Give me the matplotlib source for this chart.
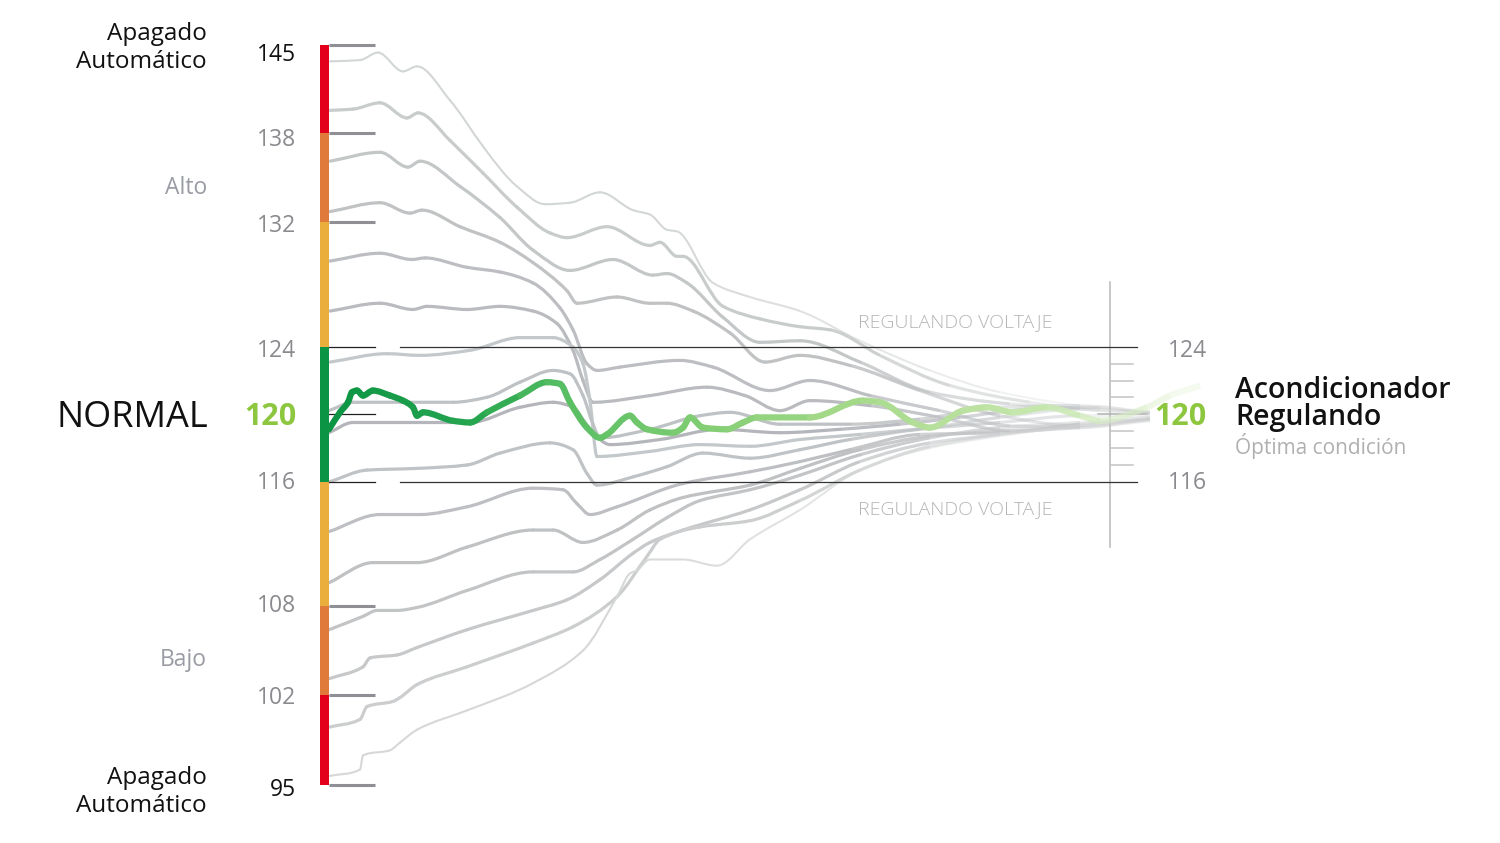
import numpy as np
import matplotlib
matplotlib.use("Agg")
import matplotlib.pyplot as plt
from matplotlib.collections import PathCollection
from matplotlib.path import Path
from matplotlib.colors import to_rgba

plt.rcParams['font.family'] = ['Open Sans', 'DejaVu Sans']

# the voltage axis of the original is not linear: value -> pixel row
scale_v = [90.49, 95, 102, 108, 116, 120, 124, 132, 138, 145, 148.58]
scale_px = [843, 785, 695, 606, 482, 414, 347, 222, 133, 45, 0]

# zone bar (bottom to top)
band_edges = [95, 102, 108, 116, 124, 132, 138, 145]
band_colors = ['#e2001a', '#df7a3a', '#e9ae3c', '#0b9444', '#e9ae3c', '#df7a3a', '#e2001a']

left_ticks = [145, 138, 132, 124, 120, 116, 108, 102, 95]
left_labels = ['145', '138', '132', '124', '120', '116', '108', '102', '95']
right_minor = [117, 118, 119, 121, 122, 123]

# voltage traces, x = time (same units as the picture columns)
u1_x = [330, 360, 378, 403, 417, 450, 483, 517, 545, 570, 600, 633, 650, 667, 677, 713, 750, 800, 860, 930, 1000, 1080, 1150]
u1_v = [143.7, 143.8, 144.4, 142.9, 143.3, 140.6, 137.1, 134.4, 133.2, 133.3, 134.0, 132.8, 132.5, 131.5, 131.4, 128.1, 127.2, 126.3, 124.4, 122.6, 121.3, 120.5, 120.1]
u2_x = [330, 353, 380, 407, 418, 450, 483, 517, 550, 567, 607, 650, 660, 677, 683, 723, 760, 800, 830, 880, 950, 1030, 1100, 1150]
u2_v = [139.8, 139.9, 140.4, 139.2, 139.6, 137.5, 135.3, 133.0, 131.3, 131.0, 131.7, 130.5, 130.7, 129.8, 129.8, 126.6, 125.8, 125.3, 125.1, 123.5, 121.7, 120.7, 120.2, 120.0]
u3_x = [330, 380, 408, 420, 460, 500, 533, 570, 613, 653, 667, 687, 723, 760, 800, 860, 930, 1010, 1080, 1150]
u3_v = [136.1, 136.7, 135.7, 136.1, 134.4, 132.3, 130.2, 128.9, 129.6, 128.6, 128.7, 128.1, 125.9, 124.3, 124.4, 123.1, 121.3, 120.6, 120.3, 120.1]
u4_x = [330, 380, 410, 422, 460, 500, 533, 567, 577, 617, 650, 667, 693, 730, 765, 800, 850, 920, 1000, 1080, 1150]
u4_v = [132.7, 133.3, 132.6, 132.8, 131.7, 130.7, 129.4, 127.6, 126.8, 127.2, 126.8, 126.8, 126.3, 124.9, 123.1, 123.5, 122.9, 121.4, 119.9, 119.3, 119.7]
u5_x = [330, 380, 412, 425, 467, 500, 533, 560, 573, 587, 597, 620, 680, 713, 770, 810, 870, 940, 1010, 1080, 1150]
u5_v = [129.5, 130.0, 129.6, 129.7, 129.1, 128.8, 128.1, 126.5, 125.1, 123.0, 122.6, 122.8, 123.2, 122.8, 121.4, 122.0, 121.1, 120.2, 119.3, 119.2, 119.7]
u6_x = [330, 380, 413, 427, 467, 500, 533, 557, 573, 583, 593, 650, 707, 745, 780, 810, 870, 940, 1010, 1080, 1150]
u6_v = [126.3, 126.8, 126.4, 126.6, 126.4, 126.6, 126.3, 125.5, 123.8, 122.0, 120.7, 121.1, 121.6, 121.1, 120.2, 120.8, 120.5, 119.8, 119.0, 119.2, 119.6]
u7_x = [330, 387, 420, 470, 520, 553, 573, 583, 590, 597, 650, 700, 750, 800, 860, 930, 1000, 1080, 1150]
u7_v = [123.1, 123.6, 123.5, 123.8, 124.6, 124.6, 124.0, 123.0, 120.8, 117.5, 117.8, 118.2, 118.1, 118.5, 118.8, 119.2, 119.8, 120.3, 120.1]
m1_x = [329, 353, 403, 453, 487, 520, 553, 570, 583, 593, 600, 650, 700, 730, 780, 850, 920, 1000, 1080, 1150]
m1_v = [120.2, 120.7, 120.7, 120.7, 121.0, 121.9, 122.6, 122.4, 121.1, 119.4, 118.6, 119.1, 119.9, 120.1, 119.4, 119.4, 119.7, 120.4, 120.5, 120.1]
m2_x = [329, 353, 420, 470, 520, 553, 573, 590, 610, 660, 720, 780, 840, 900, 960, 1030, 1100, 1150]
m2_v = [118.9, 119.5, 119.5, 119.5, 120.4, 120.7, 120.4, 119.1, 118.2, 118.5, 119.1, 118.9, 119.1, 119.4, 119.8, 120.3, 120.4, 120.0]
l1_x = [329, 367, 417, 467, 500, 550, 573, 587, 597, 633, 667, 703, 750, 800, 850, 920, 1000, 1080, 1150]
l1_v = [116.0, 116.7, 116.8, 117.0, 117.7, 118.3, 117.9, 116.5, 115.8, 116.3, 116.9, 117.7, 117.4, 117.9, 118.5, 119.1, 119.5, 119.9, 119.9]
l2_x = [329, 380, 420, 467, 533, 563, 577, 590, 617, 683, 750, 800, 850, 920, 1000, 1080, 1150]
l2_v = [112.8, 113.9, 113.9, 114.4, 115.6, 115.5, 114.6, 113.9, 114.4, 115.9, 116.6, 117.2, 117.9, 118.8, 118.9, 119.4, 119.8]
l3_x = [329, 373, 417, 467, 533, 553, 583, 617, 650, 683, 750, 800, 860, 930, 1000, 1080, 1150]
l3_v = [109.5, 110.8, 110.8, 111.8, 112.9, 112.9, 112.1, 112.9, 114.2, 115.0, 115.8, 116.8, 117.9, 118.7, 119.0, 119.4, 119.7]
l4_x = [329, 363, 377, 397, 417, 467, 533, 573, 600, 633, 667, 700, 750, 800, 860, 930, 1000, 1080, 1150]
l4_v = [106.4, 107.3, 107.7, 107.7, 107.9, 109.0, 110.2, 110.2, 111.0, 112.3, 113.7, 114.8, 115.5, 116.4, 117.6, 118.6, 119.2, 119.5, 119.8]
l5_x = [329, 363, 370, 397, 417, 467, 533, 567, 600, 633, 650, 683, 750, 800, 860, 930, 1000, 1080, 1150]
l5_v = [103.1, 103.9, 104.5, 104.7, 105.2, 106.4, 107.7, 108.4, 109.7, 111.4, 112.1, 112.9, 114.2, 115.5, 117.2, 118.3, 118.8, 119.3, 119.7]
l6_x = [329, 360, 367, 393, 400, 417, 467, 533, 573, 617, 647, 660, 700, 750, 800, 860, 930, 1000, 1080, 1150]
l6_v = [99.5, 100.1, 101.1, 101.5, 101.8, 102.7, 103.9, 105.5, 106.6, 108.6, 111.2, 112.3, 113.1, 113.5, 114.8, 116.7, 118.1, 118.8, 119.3, 119.7]
l7_x = [329, 360, 363, 390, 400, 417, 467, 533, 583, 617, 630, 637, 650, 683, 717, 750, 800, 860, 930, 1000, 1080, 1150]
l7_v = [95.7, 96.2, 97.3, 97.7, 98.3, 99.3, 100.8, 102.8, 105.0, 108.6, 110.1, 110.3, 111.0, 111.0, 110.6, 112.3, 114.2, 116.7, 118.0, 118.7, 119.3, 119.6]

# regulated output (green)
g_x = [329, 340, 348, 352, 357, 363, 373, 390, 403, 413, 417, 423, 453, 470, 487, 520, 547, 560, 570, 587,
       600, 607, 630, 637, 647, 673, 683, 690, 703, 727, 743, 757, 810, 863, 880, 913, 930, 963, 987, 1013,
       1047, 1080, 1100, 1147, 1170, 1200]
g_v = [119.1, 120.1, 120.7, 121.3, 121.4, 121.1, 121.4, 121.1, 120.8, 120.4, 119.9, 120.1, 119.6, 119.5, 120.1, 121.1, 121.9, 121.8, 120.7, 119.2,
       118.6, 118.8, 119.9, 119.5, 119.1, 118.9, 119.2, 119.8, 119.2, 119.1, 119.5, 119.8, 119.8, 120.8, 120.7, 119.5, 119.2, 120.2, 120.4, 120.1,
       120.4, 119.9, 119.6, 120.4, 121.1, 121.7]

traces = [(u1_x, u1_v), (u2_x, u2_v), (u3_x, u3_v), (u4_x, u4_v), (u5_x, u5_v), (u6_x, u6_v), (u7_x, u7_v),
          (m1_x, m1_v), (m2_x, m2_v), (l1_x, l1_v), (l2_x, l2_v), (l3_x, l3_v), (l4_x, l4_v), (l5_x, l5_v),
          (l6_x, l6_v), (l7_x, l7_v)]
trace_colors = ['#d3d6d6', '#c9cccc', '#c4c7c8', '#c0c2c4', '#bcbec2', '#b9bbbf', '#c3c8ca', '#bfc2c4',
                '#b4b6bb', '#c0c3c5', '#bdbfc2', '#bfc1c3', '#c2c4c6', '#c6c8ca', '#cbcdce', '#d6d8d8']
trace_lw = [1.5, 2.3, 2.3, 2.3, 2.3, 2.3, 2.3, 2.3, 2.3, 2.3, 2.3, 2.3, 2.3, 2.3, 2.3, 1.5]
trace_fade = [640, 820, 840, 840, 840, 840, 840, 840, 840, 840, 840, 840, 840, 820, 760, 620]


def fwd(v):
    return np.interp(v, scale_v, -np.array(scale_px, float))


def inv(p):
    return np.interp(p, -np.array(scale_px, float), scale_v)


def smooth_pieces(x, v):
    # one cubic bezier per pair of read points (shape-preserving slopes)
    x = np.asarray(x, float)
    v = np.asarray(v, float)
    h = np.diff(x)
    d = np.diff(v) / h
    m = np.zeros_like(v)
    m[0], m[-1] = d[0], d[-1]
    for k in range(1, len(v) - 1):
        if d[k - 1] * d[k] > 0:
            w1 = 2 * h[k] + h[k - 1]
            w2 = h[k] + 2 * h[k - 1]
            m[k] = (w1 + w2) / (w1 / d[k - 1] + w2 / d[k])
    codes = [Path.MOVETO, Path.CURVE4, Path.CURVE4, Path.CURVE4]
    paths = []
    for i in range(len(h)):
        t = h[i] / 3
        verts = [(x[i], v[i]), (x[i] + t, v[i] + m[i] * t),
                 (x[i + 1] - t, v[i + 1] - m[i + 1] * t), (x[i + 1], v[i + 1])]
        paths.append(Path(verts, codes))
    return paths, (x[:-1] + x[1:]) / 2


def draw_trace(ax, paths, rgba, lw, z):
    opaque = rgba[:, 3] >= 0.999
    for sel, cap in ((opaque, 'round'), (~opaque, 'butt')):
        if sel.any():
            pc = PathCollection([p for p, s in zip(paths, sel) if s], facecolors='none',
                                edgecolors=rgba[sel], linewidths=lw, capstyle=cap,
                                transform=ax.transData, zorder=z)
            ax.add_collection(pc, autolim=False)


fig = plt.figure(figsize=(15, 8.43), dpi=100)
ax = fig.add_axes([0, 0, 1, 1])
ax.set_yscale('function', functions=(fwd, inv))
ax.set_xlim(0, 1500)
ax.set_ylim(scale_v[0], scale_v[-1])
ax.axis('off')

# zone bar
ax.bar([324.5] * len(band_colors), np.diff(band_edges), bottom=band_edges[:-1], width=9,
       color=band_colors, zorder=4)

# gray ticks at the limits
for t in [145, 138, 132, 108, 102, 95]:
    ax.plot([329, 375], [t, t], color='#8f8f96', lw=2.2, solid_capstyle='butt', zorder=3)
ax.plot([329, 375], [120, 120], color='#222222', lw=0.9, zorder=3)
for t in [124, 116]:
    ax.plot([329, 375], [t, t], color='#222222', lw=0.9, zorder=3)
    ax.plot([400, 1137], [t, t], color='#333333', lw=0.9, zorder=3)

# right scale
ax.plot([1110, 1110], [inv(-282), inv(-547)], color='#b8b8b8', lw=1.1, zorder=1)
for t in right_minor:
    ax.plot([1110, 1133], [t, t], color='#c4c4c4', lw=1.1, zorder=1)
ax.plot([1098, 1147], [120, 120], color='#b0b0b0', lw=1.1, zorder=1)

# gray traces, fading out to the right
for (x, v), c, lw, f0 in zip(traces, trace_colors, trace_lw, trace_fade):
    paths, xm = smooth_pieces(x, v)
    rgba = np.tile(to_rgba(c), (len(paths), 1))
    rgba[:, 3] = 1 - np.clip((xm - f0) / (1160 - f0), 0, 1) * 0.9
    draw_trace(ax, paths, rgba, lw, 2)

# green trace with colour gradient
paths, xm = smooth_pieces(g_x, g_v)
stops_x = [329, 480, 560, 700, 850, 1000, 1200]
stops_c = [to_rgba(c) for c in ['#0b9444', '#27a650', '#57bd62', '#80cd72', '#a5d98a', '#c0e4a6', '#e4f3d6']]
rgba = np.column_stack([np.interp(xm, stops_x, [c[i] for c in stops_c]) for i in range(4)])
rgba[:, 3] = 1 - np.clip((xm - 1040) / (1200 - 1040), 0, 1) * 0.7
draw_trace(ax, paths, rgba, 4.5, 5)

# left labels
label_pos = [144.2, 137.5, 131.75, 123.77, 119.82, 115.92, 108.0, 101.8, 94.6]
for t, lab, y in zip(left_ticks, left_labels, label_pos):
    if t == 120:
        ax.text(296, y, lab, ha='right', va='center', fontsize=22, color='#8dc63f', fontweight='bold')
    else:
        col = '#111111' if t in (145, 95) else '#8a8a8f'
        ax.text(296, y, lab, ha='right', va='center', fontsize=16.5, color=col)

ax.text(207, 144.75, 'Apagado\nAutomático', ha='right', va='center', fontsize=17.5, color='#111111',
        linespacing=1.25)
ax.text(207, 94.45, 'Apagado\nAutomático', ha='right', va='center', fontsize=17.5, color='#111111',
        linespacing=1.25)
ax.text(207, 134.3, 'Alto', ha='right', va='center', fontsize=16.5, color='#9a9ca4')
ax.text(207, 104.35, 'Bajo', ha='right', va='center', fontsize=16.5, color='#9a9ca4')
ax.text(208, 119.75, 'NORMAL', ha='right', va='center', fontsize=26, color='#111111')

ax.text(955, 125.6, 'REGULANDO VOLTAJE', ha='center', va='center', fontsize=14, color='#b5b5b5',
        fontweight='light')
ax.text(955, 114.25, 'REGULANDO VOLTAJE', ha='center', va='center', fontsize=14, color='#b5b5b5',
        fontweight='light')

# right labels
ax.text(1207, 123.77, '124', ha='right', va='center', fontsize=16.5, color='#8a8a8f')
ax.text(1207, 115.92, '116', ha='right', va='center', fontsize=16.5, color='#8a8a8f')
ax.text(1207, 119.82, '120', ha='right', va='center', fontsize=22, color='#8dc63f', fontweight='bold')
ax.text(1235, 121.43, 'Acondicionador', ha='left', va='center', fontsize=20.5, color='#111111',
        fontweight='semibold')
ax.text(1235, 119.78, 'Regulando', ha='left', va='center', fontsize=20.5, color='#111111',
        fontweight='semibold')
ax.text(1235, 118.1, 'Óptima condición', ha='left', va='center', fontsize=15, color='#b0b0b0')

fig.savefig('out.png', dpi=100)
